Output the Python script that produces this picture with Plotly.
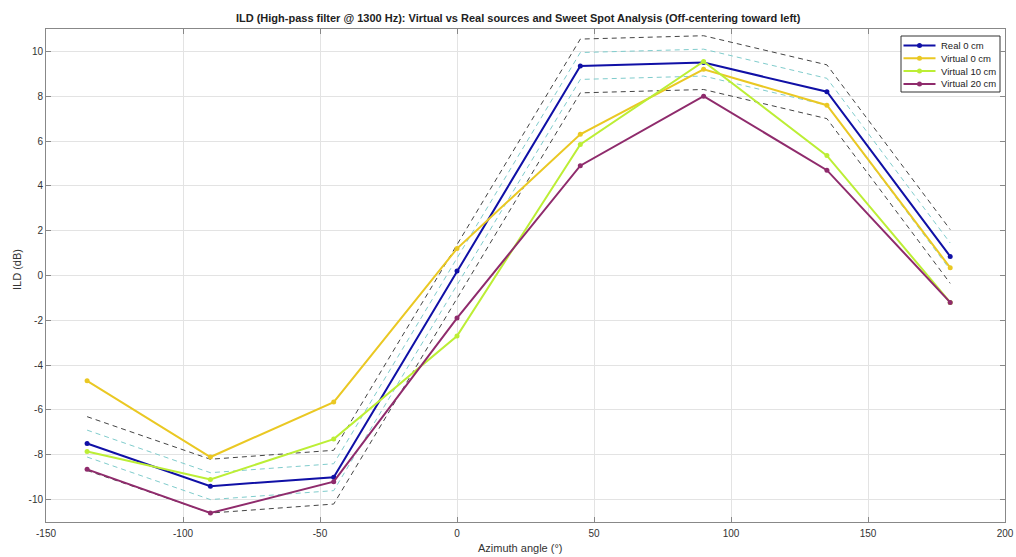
import plotly.graph_objects as go

azimuth = [-135, -90, -45, 0, 45, 90, 135, 180]
real_0 = [-7.5, -9.4, -9.0, 0.2, 9.35, 9.5, 8.2, 0.85]
virtual_0 = [-4.7, -8.1, -5.65, 1.2, 6.3, 9.2, 7.6, 0.35]
virtual_10 = [-7.85, -9.1, -7.3, -2.7, 5.85, 9.55, 5.35, -1.2]
virtual_20 = [-8.65, -10.6, -9.2, -1.9, 4.9, 8.0, 4.7, -1.2]
inner_band = 0.6   # dB tolerance around real source
outer_band = 1.2

x_ticks = [-150, -100, -50, 0, 50, 100, 150, 200]
y_ticks = [-10, -8, -6, -4, -2, 0, 2, 4, 6, 8, 10]
x_ticklabels = ["-150", "-100", "-50", "0", "50", "100", "150", "200"]
y_ticklabels = ["-10", "-8", "-6", "-4", "-2", "0", "2", "4", "6", "8", "10"]

FONT = "Liberation Sans, Arial, Helvetica"
W, H = 1016, 557
ML, MR, MT, MB = 46, 11, 29, 35
PW, PH = W - ML - MR, H - MT - MB


def px_x(p):
    return (p - ML) / PW


def px_y(p):
    return 1 - (p - MT) / PH


fig = go.Figure()

for off, col in [(outer_band, "#444444"), (inner_band, "#7fcccc")]:
    for sgn in (1, -1):
        fig.add_trace(go.Scatter(
            x=azimuth, y=[v + sgn * off for v in real_0], mode="lines",
            line=dict(color=col, width=1, dash="5px,4px"),
            showlegend=False, hoverinfo="skip"))

series = [
    ("Real 0 cm", real_0, "#1010a6"),
    ("Virtual 0 cm", virtual_0, "#eac823"),
    ("Virtual 10 cm", virtual_10, "#bcee35"),
    ("Virtual 20 cm", virtual_20, "#8f2b6c"),
]
for name, ys, col in series:
    fig.add_trace(go.Scatter(
        x=azimuth, y=ys, mode="lines+markers", name=name,
        line=dict(color=col, width=2), marker=dict(color=col, size=5),
        showlegend=False))

# compact legend drawn on an overlay axis in pixel units
lx0, lx1, ly0, ly1 = 901, 1000, 36, 92
row_y = [45.5, 58.3, 71.1, 83.9]
fig.add_trace(go.Scatter(
    x=[lx0, lx1, lx1, lx0, lx0], y=[ly0, ly0, ly1, ly1, ly0],
    xaxis="x2", yaxis="y2", mode="lines", fill="toself", fillcolor="white",
    line=dict(color="#333333", width=1), showlegend=False, hoverinfo="skip"))
for (name, ys, col), ry in zip(series, row_y):
    fig.add_trace(go.Scatter(
        x=[903.5, 935.5], y=[ry, ry], xaxis="x2", yaxis="y2", mode="lines",
        line=dict(color=col, width=2), showlegend=False, hoverinfo="skip"))
    fig.add_trace(go.Scatter(
        x=[919.5], y=[ry], xaxis="x2", yaxis="y2", mode="markers",
        marker=dict(color=col, size=5), showlegend=False, hoverinfo="skip"))
    fig.add_annotation(x=938.5, y=ry, xref="x2", yref="y2", text=name,
                       showarrow=False, xanchor="left", yanchor="middle",
                       font=dict(family=FONT, size=9.5, color="#222222"))

# axis titles
fig.add_annotation(x=px_x(520), y=px_y(548), xref="paper", yref="paper",
                   text="Azimuth angle (°)",
                   showarrow=False, xanchor="center", yanchor="middle",
                   font=dict(family=FONT, size=11, color="#333333"))
fig.add_annotation(x=px_x(17), y=px_y(270), xref="paper", yref="paper",
                   text="ILD (dB)", textangle=-90,
                   showarrow=False, xanchor="center", yanchor="middle",
                   font=dict(family=FONT, size=11, color="#333333"))

axis_common = dict(
    showline=True, linecolor="#888888", linewidth=1, mirror="ticks",
    ticks="inside", ticklen=5, tickcolor="#888888", automargin=False,
    showgrid=True, gridcolor="#e3e3e3", gridwidth=1, zeroline=False,
    tickfont=dict(family=FONT, size=10, color="#333333"),
)
fig.update_xaxes(range=[-150, 200], tickvals=x_ticks, ticktext=x_ticklabels,
                 ticklabelstandoff=2, **axis_common)
fig.update_yaxes(range=[-11, 11], tickvals=y_ticks, ticktext=y_ticklabels, **axis_common)

fig.update_layout(
    xaxis2=dict(overlaying="x", range=[ML, W - MR], visible=False, fixedrange=True),
    yaxis2=dict(overlaying="y", range=[H - MB, MT], visible=False, fixedrange=True),
    width=W, height=H,
    margin=dict(l=ML, r=MR, t=MT, b=MB),
    paper_bgcolor="white", plot_bgcolor="white",
    title=dict(text="<b>ILD (High-pass filter @ 1300 Hz): Virtual vs Real sources and Sweet Spot Analysis (Off-centering toward left)</b>",
               x=0.51, xanchor="center", y=1 - 18.5 / H, yanchor="middle",
               font=dict(family=FONT, size=11, color="#222222")),
    showlegend=False,
)

fig.write_html("out.html")
